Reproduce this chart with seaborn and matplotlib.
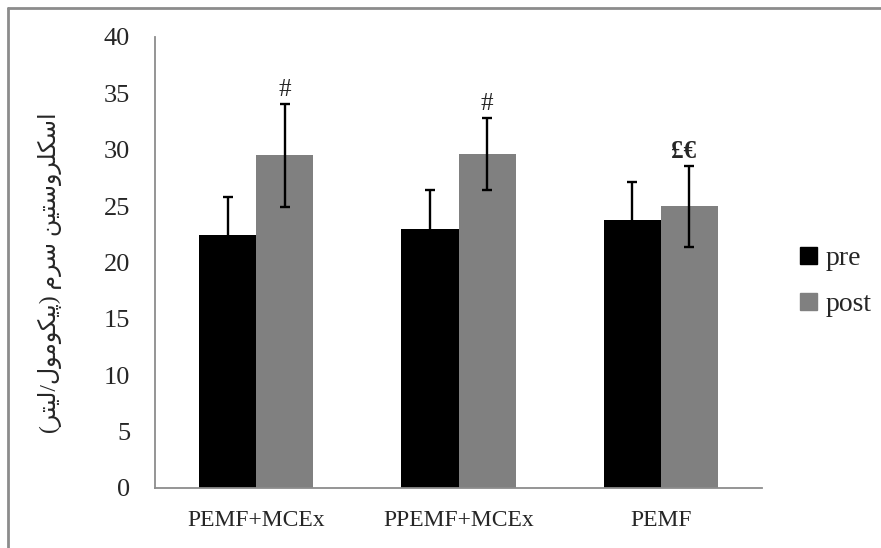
import pandas as pd
import seaborn as sns
import matplotlib.pyplot as plt
from matplotlib.lines import Line2D

groups = ['PEMF+MCEx', 'PPEMF+MCEx', 'PEMF']
phases = ['pre', 'post']
pre_mean = [22.4, 23.0, 23.8]
post_mean = [29.5, 29.6, 25.0]
pre_sd = [3.4, 3.4, 3.3]
post_sd = [4.6, 3.2, 3.6]
marks = ['#', '#', '£€']

# persian label written in presentation forms, visual order (no shaping engine in matplotlib)
# logical text: اسکلروستین سرم (پیکومول/لیتر)
ylab = ('(' + '\uFEAE\uFE98\uFBFF\uFEDF' + '/' + '\uFEDD\uFEEE\uFEE3\uFEEE\uFB91\uFBFF\uFB58' + ')'
        + ' ' + '\uFEE1\uFEAE\uFEB3'
        + ' ' + '\uFEE6\uFBFF\uFE98\uFEB3\uFEED\uFEAE\uFEE0\uFB91\uFEB3\uFE8D')

df = pd.DataFrame({
    'group': groups * 2,
    'phase': ['pre'] * 3 + ['post'] * 3,
    'value': pre_mean + post_mean,
    'sd': pre_sd + post_sd,
})

sns.set_style('white')
plt.rcParams['font.family'] = ['Liberation Serif', 'DejaVu Sans']

fig = plt.figure(figsize=(8.81, 5.48), dpi=100)
ax = fig.add_axes([0.176, 0.1095, 0.689, 0.823])

sns.barplot(data=df, x='group', y='value', hue='phase', hue_order=phases,
            palette=['#000000', '#808080'], errorbar=None, width=0.565,
            saturation=1, linewidth=0, ax=ax, legend=False)

for i, ph in enumerate(phases):
    sub = df[df.phase == ph]
    for j, bar in enumerate(ax.containers[i]):
        xc = bar.get_x() + bar.get_width() / 2
        ax.errorbar(xc, sub.value.iloc[j], yerr=sub.sd.iloc[j], color='black',
                    capsize=3.5, elinewidth=1.7, capthick=1.7, fmt='none')
        if ph == 'post':
            w = 'bold' if marks[j] == '£€' else 'normal'
            ax.text(xc - (0.03 if w == 'bold' else 0), sub.value.iloc[j] + sub.sd.iloc[j] + 0.25, marks[j],
                    ha='center', va='bottom', fontsize=18, fontweight=w)

ax.set_ylim(0, 40)
ax.set_xlim(-0.5, 2.5)
ax.set_yticks(range(0, 41, 5))
ax.set_xticks([-0.5, 0.5, 1.5, 2.5], minor=False)
ax.set_xticklabels([])
ax.set_xticks([0, 1, 2], minor=True)
ax.set_xticklabels(groups, minor=True, fontsize=17)
ax.tick_params(axis='x', which='minor', length=0, pad=16)
ax.tick_params(axis='x', which='major', direction='out', length=7, color='#8c8c8c', width=1.3)
ax.tick_params(axis='y', direction='out', length=5, color='#8c8c8c', width=1.3, pad=13, labelsize=19)
for s in ['top', 'right']:
    ax.spines[s].set_visible(False)
for s in ['left', 'bottom']:
    ax.spines[s].set_color('#8c8c8c')
    ax.spines[s].set_linewidth(1.3)
ax.set_xlabel('')
ax.set_ylabel('')
fig.text(50 / 881, 1 - 273 / 548, ylab, rotation=90, ha='center', va='center', fontsize=17)

handles = [plt.Rectangle((0, 0), 1, 1, color=c) for c in ['#000000', '#808080']]
ax.legend(handles, phases, loc='center left', bbox_to_anchor=(1.04, 0.457),
          frameon=False, handlelength=0.6, handleheight=0.6, handletextpad=0.3,
          labelspacing=0.75, fontsize=20, borderpad=0)

fig.add_artist(Line2D([8 / 881, 1], [1 - 8 / 548] * 2, color='#8c8c8c', lw=2))
fig.add_artist(Line2D([8 / 881] * 2, [0, 1 - 8 / 548], color='#8c8c8c', lw=2))

fig.savefig('out.png', dpi=100)
